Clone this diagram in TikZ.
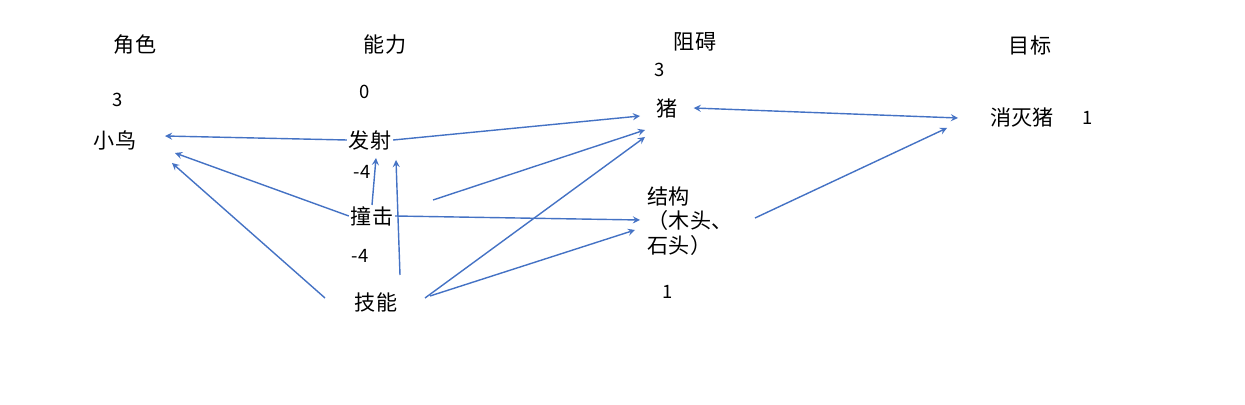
\documentclass[tikz,border=0pt]{standalone}
\usepackage{fontspec}
\setmainfont{Noto Sans CJK SC}
\usetikzlibrary{arrows}
\tikzset{
	lbl/.style   = {inner sep=1pt, font=\fontsize{12}{14}\selectfont},
	num/.style   = {inner sep=1pt, font=\fontsize{10.5}{12}\selectfont},
	link/.style  = {draw=linkblue, line width=0.8pt, ->, >=stealth}
}
\definecolor{linkblue}{HTML}{4472C4}

\begin{document}
\begin{tikzpicture}[x=0.02cm, y=-0.02cm]
	\useasboundingbox (0,0) rectangle (1245,405);
	\draw
	% headings
	node at (135,45)[lbl] (hRole) {角色}
	node at (385,45)[lbl] (hAbil) {能力}
	node at (695,42)[lbl] (hObst) {阻碍}
	node at (1030,45)[lbl] (hGoal) {目标}
	% left column
	node at (118,100)[num] (nBird) {3}
	node at (115,140)[lbl] (bird) {小鸟}
	node at (365,92)[num] (nLaunch) {0}
	node at (370,140)[lbl] (launch) {发射}
	node at (362,172)[num] (nHit1) {-4}
	node at (372,216)[lbl] (hit) {撞击}
	node at (360,256)[num] (nHit2) {-4}
	node at (376,302)[lbl] (skill) {技能}
	% obstacles
	node at (660,70)[num] (nPig) {3}
	node at (667,108)[lbl] (pig) {猪}
	node at (690,221)[lbl, align=left] (struct) {结构\\（木头、\\石头）}
	node at (668,292)[num] (nStruct) {1}
	% goal
	node at (1022,118)[lbl] (goal) {消灭猪}
	node at (1088,118)[num] (nGoal) {1}
	;

	\coordinate (birdA) at (165,136);
	\coordinate (birdB) at (175,153);
	\coordinate (birdC) at (172,163);
	\coordinate (pigA) at (640,116);
	\coordinate (pigB) at (645,130);
	\coordinate (pigC) at (645,137);
	\coordinate (strA) at (640,220);
	\coordinate (strB) at (635,230);
	\coordinate (strOut) at (755,218);
	\coordinate (goalA) at (958,118);
	\coordinate (goalB) at (947,128);
	\coordinate (upA0) at (372,205);
	\coordinate (upA1) at (376,158);
	\coordinate (upB0) at (400,275);
	\coordinate (upB1) at (396,160);
	\coordinate (hitTop) at (433,200);
	\coordinate (skL) at (325,298);
	\coordinate (skA) at (425,298);
	\coordinate (skB) at (430,296);

	\draw[link] (launch.west) -- (birdA);
	\draw[link] (hit.west) -- (birdB);
	\draw[link] (skL) -- (birdC);
	\draw[link] (launch.east) -- (pigA);
	\draw[link] (hitTop) -- (pigB);
	\draw[link] (skA) -- (pigC);
	\draw[link] (hit.east) -- (strA);
	\draw[link] (skB) -- (strB);
	\draw[link, <->] ([xshift=8pt]pig.east) -- (goalA);
	\draw[link] (strOut) -- (goalB);
	\draw[link] (upA0) -- (upA1);
	\draw[link] (upB0) -- (upB1);
\end{tikzpicture}
\end{document}
